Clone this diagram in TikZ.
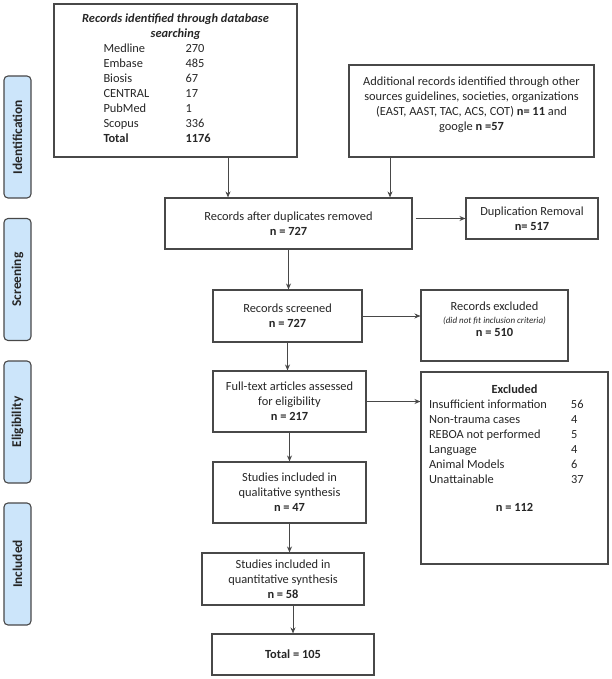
\documentclass[tikz,border=0pt]{standalone}
\usepackage{fontspec}
\setmainfont{Carlito}
\usepackage{tikz}
\usetikzlibrary{arrows.meta}
\definecolor{boxline}{HTML}{484848}
\definecolor{inktext}{HTML}{262626}
\definecolor{stagefill}{HTML}{CCE5FA}

\begin{document}
\begin{tikzpicture}[x = 1pt, y = -1pt,
		box/.style = {draw = boxline, line width = 1.1pt, text = inktext, align = center, inner sep = 0pt, font = \fontsize{12.4}{15}\selectfont},
		txt/.style = {text = inktext, align = center, inner sep = 0pt, font = \fontsize{12.4}{15}\selectfont},
		arr/.style = {draw = boxline, line width = 0.9pt, -{Stealth[length = 6pt, width = 5pt]}},
		stage/.style = {draw = boxline, line width = 1.1pt, fill = stagefill, rounded corners = 4pt, rotate = 90, minimum width = 122pt, minimum height = 27pt, inner sep = 0pt, text = inktext, font = \fontsize{13.4}{15}\selectfont\bfseries}]
			\useasboundingbox (0, 0) rectangle (611, 679);
			\node[stage] (ident) at (17.5, 137) {Identification};
			\node[stage] (scrstage) at (17.5, 279.5) {Screening};
			\node[stage] (elig) at (17.5, 422) {Eligibility};
			\node[stage] (incl) at (17.5, 564) {Included};
			\node[box, minimum width = 243pt, minimum height = 153pt] (db) at (175.5, 80.5) {\textbf{\textit{Records identified through database}}\\ \textbf{\textit{searching}}\\
				\begin{tabular}[t]{@{}p{82pt}@{}p{62pt}@{}}
					Medline & 270\\
					Embase & 485\\
					Biosis & 67\\
					CENTRAL & 17\\
					PubMed & 1\\
					Scopus & 336\\
					\textbf{Total} & \textbf{1176}
				\end{tabular}};
			\node[box, minimum width = 245pt, minimum height = 92pt] (other) at (471.5, 111) {};
				\node[txt] (othertxt) at (471.5, 104.5) {Additional records identified through other\\ sources guidelines, societies, organizations\\ (EAST, AAST, TAC, ACS, COT) \textbf{n= 11} and\\ google \textbf{n =57}};
			\node[box, minimum width = 247pt, minimum height = 51pt] (dup) at (288.5, 223.5) {Records after duplicates removed\\ \textbf{n = 727}};
			\node[box, minimum width = 132pt, minimum height = 41pt] (duprem) at (532, 218.5) {Duplication Removal\\ \textbf{n= 517}};
			\node[box, minimum width = 149pt, minimum height = 52pt] (screen) at (287.5, 316) {Records screened\\ \textbf{n = 727}};
			\node[box, minimum width = 147pt, minimum height = 71pt] (recex) at (494.5, 325.5) {};
				\node[txt] (recextxt) at (494.5, 319) {Records excluded\\[-2pt] {\fontsize{9}{11}\selectfont\itshape (did not fit inclusion criteria)}\\[-2pt] \textbf{n = 510}};
			\node[box, minimum width = 153pt, minimum height = 61pt] (full) at (289.5, 401.5) {Full-text articles assessed\\ for eligibility\\ \textbf{n = 217}};
			\node[box, minimum width = 187pt, minimum height = 192pt] (excl) at (514.5, 468) {};
				\node[txt] (excltxt) at (514.5, 448) {\textbf{Excluded}\\
					\begin{tabular}[t]{@{}p{142pt}@{}p{29pt}@{}}
						Insufficient information & 56\\
						Non-trauma cases & 4\\
						REBOA not performed & 5\\
						Language & 4\\
						Animal Models & 6\\
						Unattainable & 37
					\end{tabular}\\[15pt] \textbf{n = 112}};
			\node[box, minimum width = 153pt, minimum height = 61pt] (qual) at (289.5, 492.5) {Studies included in\\ qualitative synthesis\\ \textbf{n = 47}};
			\node[box, minimum width = 162pt, minimum height = 52pt] (quant) at (283, 579) {Studies included in\\ quantitative synthesis\\ \textbf{n = 58}};
			\node[box, minimum width = 162pt, minimum height = 41pt] (total) at (293, 654.5) {\textbf{Total = 105}};
			\draw[arr] ([xshift = 52.5pt]db.south) -- ([xshift = 52.5pt]db.south |- dup.north);
			\draw[arr] ([xshift = -81.5pt]other.south) -- ([xshift = -81.5pt]other.south |- dup.north);
			\draw[arr, shorten <= 3pt] (dup.east |- duprem.west) -- (duprem.west);
			\draw[arr] (dup.south) -- (dup.south |- screen.north);
			\draw[arr] (screen.east) -- (screen.east -| recex.west);
			\draw[arr] (screen.south) -- (screen.south |- full.north);
			\draw[arr] (full.east) -- (full.east -| excl.west);
			\draw[arr] (full.south) -- (full.south |- qual.north);
			\draw[arr] (qual.south) -- (qual.south |- quant.north);
			\draw[arr] (total.north |- quant.south) -- (total.north);
		\end{tikzpicture}
\end{document}
